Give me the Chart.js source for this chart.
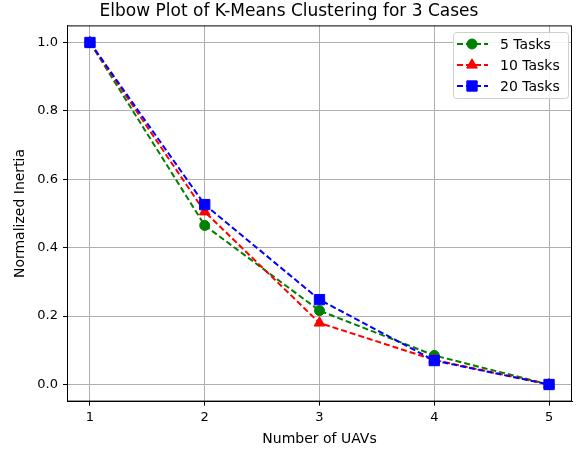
<!DOCTYPE html>
<html>
<head>
<meta charset="utf-8">
<script src="https://cdn.jsdelivr.net/npm/chart.js@4.4.0/dist/chart.umd.min.js"></script>
<style>
  html, body { margin: 0; padding: 0; background: #fff; }
  #wrap { width: 584px; height: 450px; }
</style>
</head>
<body>
<div id="wrap"><canvas id="elbowChart" width="584" height="450"></canvas></div>
<script>
const uavs = [1, 2, 3, 4, 5];
const tasks5 = [1.0, 0.465, 0.216, 0.085, 0.0];
const tasks10 = [1.0, 0.505, 0.18, 0.072, 0.0];
const tasks20 = [1.0, 0.526, 0.248, 0.07, 0.0];
const seriesNames = ['5 Tasks', '10 Tasks', '20 Tasks'];
const seriesColors = ['green', 'red', 'blue'];
const seriesMarkers = ['circle', 'triangle', 'rect'];
const markerRadius = [5, 6.2, 7.3]; // rect is drawn at r*sqrt(1/2)

const FONT = 'DejaVu Sans';

function toPoints(vals) {
    return uavs.map((u, i) => ({ x: u, y: vals[i] }));
}

// legend box drawn inside the plot (matplotlib style: line + marker)
const boxLegend = {
    id: 'boxLegend',
    afterDraw(chart) {
        const c = chart.ctx;
        const area = chart.chartArea;
        // frame top / right
        c.save();
        c.strokeStyle = '#000';
        c.lineWidth = 1;
        c.strokeRect(area.left + 0.5, area.top + 0.5, area.right - area.left - 1, area.bottom - area.top - 1);

        const bx = 453, by = 32, bw = 115, bh = 66;
        c.fillStyle = 'rgba(255,255,255,0.85)';
        c.strokeStyle = '#d0d0d0';
        c.lineWidth = 1;
        c.beginPath();
        c.roundRect(bx + 0.5, by + 0.5, bw, bh, 3);
        c.fill();
        c.stroke();

        chart.data.datasets.forEach((ds, i) => {
            const y = by + 12 + i * 21;
            c.strokeStyle = ds.borderColor;
            c.lineWidth = 2;
            c.setLineDash([6, 3]);
            c.beginPath();
            c.moveTo(457, y);
            c.lineTo(488, y);
            c.stroke();
            c.setLineDash([]);
            c.fillStyle = ds.borderColor;
            c.strokeStyle = ds.borderColor;
            c.lineWidth = 1;
            Chart.helpers.drawPoint(c, {
                pointStyle: ds.pointStyle,
                radius: ds.pointRadius,
                borderWidth: 1,
                rotation: 0
            }, 472, y);
            c.fillStyle = '#000';
            c.font = '14px ' + FONT;
            c.textBaseline = 'middle';
            c.textAlign = 'left';
            c.fillText(ds.label, 500, y + 1);
        });
        c.restore();
    }
};

const ctx = document.getElementById('elbowChart').getContext('2d');
const elbowChart = new Chart(ctx, {
    type: 'line',
    data: {
        datasets: [tasks5, tasks10, tasks20].map((vals, i) => ({
            label: seriesNames[i],
            data: toPoints(vals),
            order: 2 - i,
            borderColor: seriesColors[i],
            backgroundColor: seriesColors[i],
            pointBackgroundColor: seriesColors[i],
            pointBorderColor: seriesColors[i],
            pointStyle: seriesMarkers[i],
            pointRadius: markerRadius[i],
            pointBorderWidth: 1,
            borderWidth: 2,
            borderDash: [6, 3],
            tension: 0,
            fill: false
        }))
    },
    options: {
        responsive: false,
        animation: false,
        devicePixelRatio: 1,
        layout: { padding: { top: 0, right: 12, bottom: 2, left: 6 } },
        plugins: {
            legend: { display: false },
            tooltip: { enabled: false },
            title: {
                display: true,
                text: 'Elbow Plot of K-Means Clustering for 3 Cases',
                color: '#000',
                font: { family: FONT, size: 17, weight: 'normal' },
                padding: { top: 1, bottom: 4 }
            }
        },
        scales: {
            x: {
                type: 'linear',
                min: 0.8,
                max: 5.2,
                afterBuildTicks: axis => { axis.ticks = uavs.map(v => ({ value: v })); },
                ticks: {
                    stepSize: 1,
                    includeBounds: false,
                    color: '#000',
                    font: { family: FONT, size: 13 },
                    padding: 4,
                    maxRotation: 0,
                    callback: v => String(v)
                },
                grid: { color: '#b0b0b0', lineWidth: 1, tickColor: '#000', tickLength: 4 },
                border: { color: '#000', width: 1 },
                title: {
                    display: true,
                    text: 'Number of UAVs',
                    color: '#000',
                    font: { family: FONT, size: 14 },
                    padding: { top: 2, bottom: 0 }
                }
            },
            y: {
                type: 'linear',
                min: -0.05,
                max: 1.05,
                afterBuildTicks: axis => { axis.ticks = [0, 0.2, 0.4, 0.6, 0.8, 1.0].map(v => ({ value: v })); },
                afterFit: axis => { axis.width = 61; },
                ticks: {
                    stepSize: 0.2,
                    includeBounds: false,
                    color: '#000',
                    font: { family: FONT, size: 13 },
                    padding: 5,
                    callback: v => v.toFixed(1)
                },
                grid: { color: '#b0b0b0', lineWidth: 1, tickColor: '#000', tickLength: 4 },
                border: { color: '#000', width: 1 },
                title: {
                    display: true,
                    text: 'Normalized Inertia',
                    color: '#000',
                    font: { family: FONT, size: 14 },
                    padding: { top: 6, bottom: 0 }
                }
            }
        }
    },
    plugins: [boxLegend]
});
</script>
</body>
</html>
